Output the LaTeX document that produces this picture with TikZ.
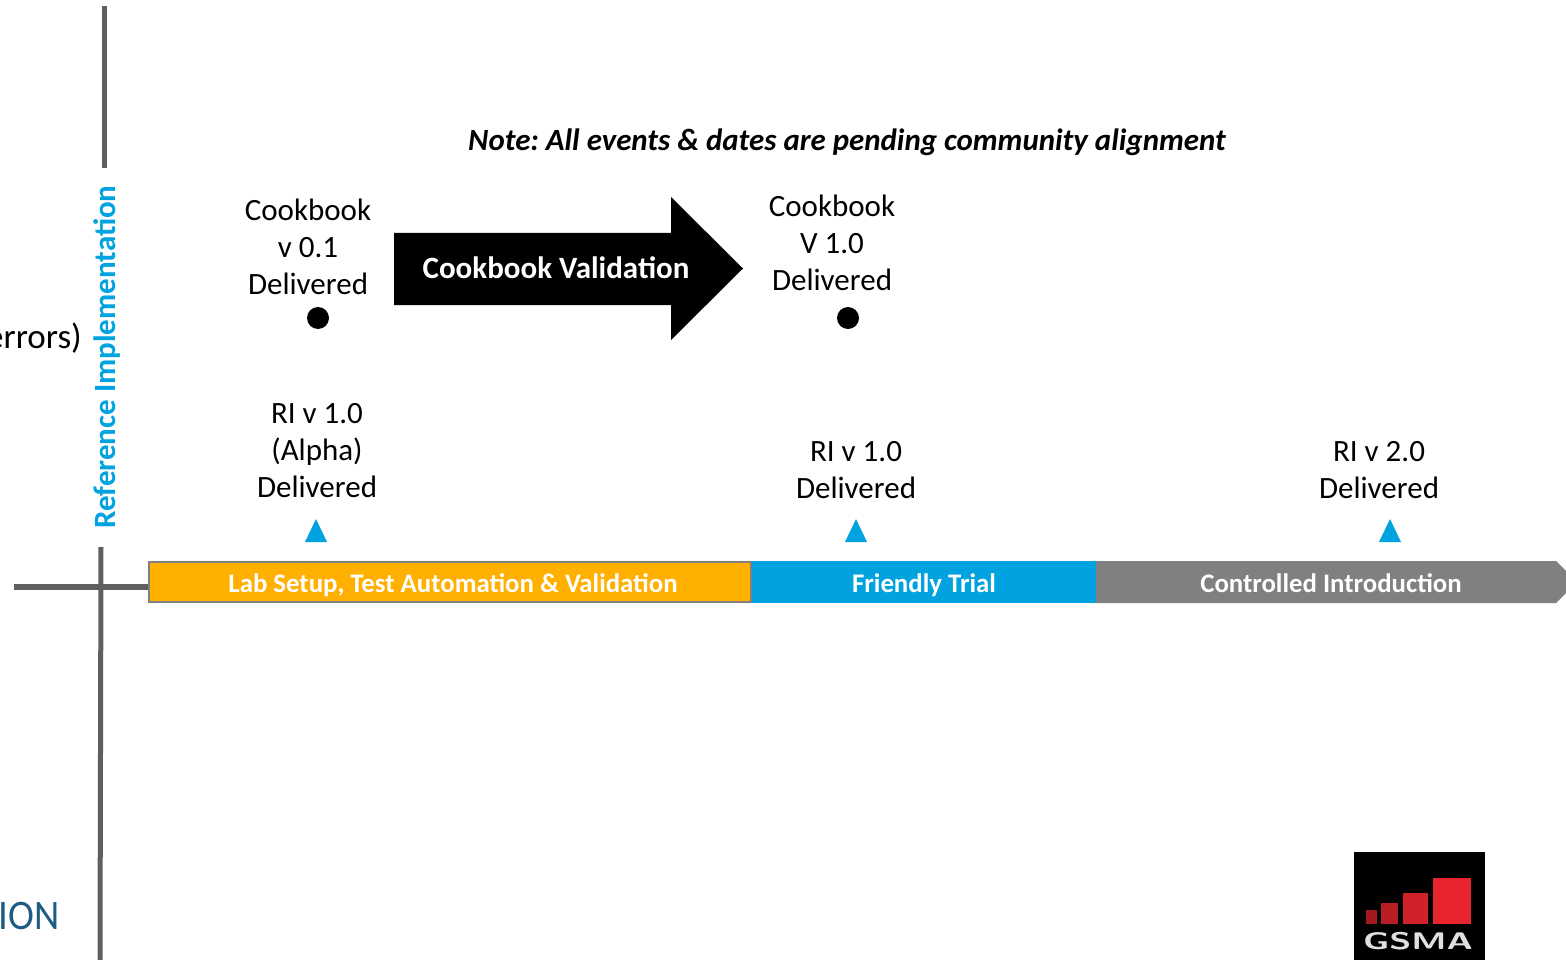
\documentclass[tikz,border=0pt]{standalone}
\usepackage{fontspec}
\setmainfont{Carlito}
\definecolor{riblue}{HTML}{00A3E0}
\definecolor{amber}{HTML}{FFB000}
\definecolor{midgrey}{HTML}{808080}
\definecolor{axisgrey}{HTML}{5F5F5F}
\definecolor{ionblue}{HTML}{1F5C85}
\definecolor{gsmared}{HTML}{E8252E}
\tikzset{
  x=1pt,y=-1pt,
  lbl/.style={align=center,font=\fontsize{31}{37}\selectfont,text=black,inner sep=0pt},
  barlbl/.style={anchor=base,font=\fontsize{26.8}{30}\bfseries\selectfont,text=white,inner sep=0pt},
  axisline/.style={draw=axisgrey,line width=5pt},
  dot/.style={circle,fill=black,minimum size=22pt,inner sep=0pt},
  tri/.style={fill=riblue},
  seg/.style={draw=midgrey,line width=2pt},
}
\begin{document}
\begin{tikzpicture}
\useasboundingbox (0,0) rectangle (1566,960);
\clip (0,0) rectangle (1566,960);
% axes
\draw[axisline] (104,6) -- (104,168);
\draw[axisline] (101,547) -- (100,960);
\draw[axisline,line width=6pt] (14,587) -- (149,587);
% left clipped texts
\node[anchor=east,inner sep=0pt,font=\fontsize{35}{37}\selectfont] (err) at (82,338) {errors)};
\node[anchor=east,inner sep=0pt,font=\fontsize{42}{44}\selectfont,text=ionblue,xscale=0.93] (ion) at (60,916) {ION};
% vertical title
\node[rotate=90,inner sep=0pt,text=riblue,font=\fontsize{31}{34}\bfseries\selectfont] (ri) at (107,357) {Reference Implementation};
% note
\node[inner sep=0pt,font=\fontsize{30.9}{34}\bfseries\itshape\selectfont] (note) at (847,142) {\frenchspacing Note: All events \& dates are pending community alignment};
% cookbook
\node[lbl] (c1) at (308,246.5) {Cookbook\\v 0.1\\Delivered};
\node[lbl] (c2) at (832,242.5) {Cookbook\\V 1.0\\Delivered};
\node[dot] (d1) at (318,318) {};
\node[dot] (d2) at (848,318) {};
\fill[black] (394,233) -- (671,233) -- (671,197) -- (743,268.5) -- (671,340) -- (671,305) -- (394,305) -- cycle;
\node[inner sep=0pt,text=white,font=\fontsize{31}{34}\bfseries\selectfont] (cv) at (556,268) {Cookbook Validation};
% RI
\node[lbl] (r1) at (317,450.5) {RI v 1.0\\(Alpha)\\Delivered};
\node[lbl] (r2) at (856,470.5) {RI v 1.0\\Delivered};
\node[lbl] (r3) at (1379,470.5) {RI v 2.0\\Delivered};
\fill[tri] (305,542) -- (316,519) -- (327,542) -- cycle;
\fill[tri] (845,542) -- (856,519) -- (867,542) -- cycle;
\fill[tri] (1379,542) -- (1390,519) -- (1401,542) -- cycle;
% bar
\fill[midgrey] (1096,561) -- (1556,561) -- (1567,572) -- (1567,592) -- (1556,603) -- (1096,603) -- cycle;
\fill[riblue] (751,561) rectangle (1096,603);
\draw[seg,fill=amber] (149,562) rectangle (751,602);
\node[barlbl] (b1) at (453,592) {Lab Setup, Test Automation \& Validation};
\node[barlbl] (b2) at (924,592) {Friendly Trial};
\node[barlbl] (b3) at (1331,592) {Controlled Introduction};
% GSMA logo
\fill[black] (1354,852) rectangle (1485,960);
\fill[gsmared!70!black] (1366,910) rectangle (1377,924);
\fill[gsmared!80!black] (1381,903) rectangle (1398,924);
\fill[gsmared!90!black] (1403,893) rectangle (1428,924);
\fill[gsmared] (1433,878) rectangle (1471,924);
\node[inner sep=0pt,text=white!88!black,font=\fontsize{24}{26}\sffamily\bfseries\selectfont,xscale=1.5] (gsma) at (1418,941) {GSMA};
\end{tikzpicture}
\end{document}
